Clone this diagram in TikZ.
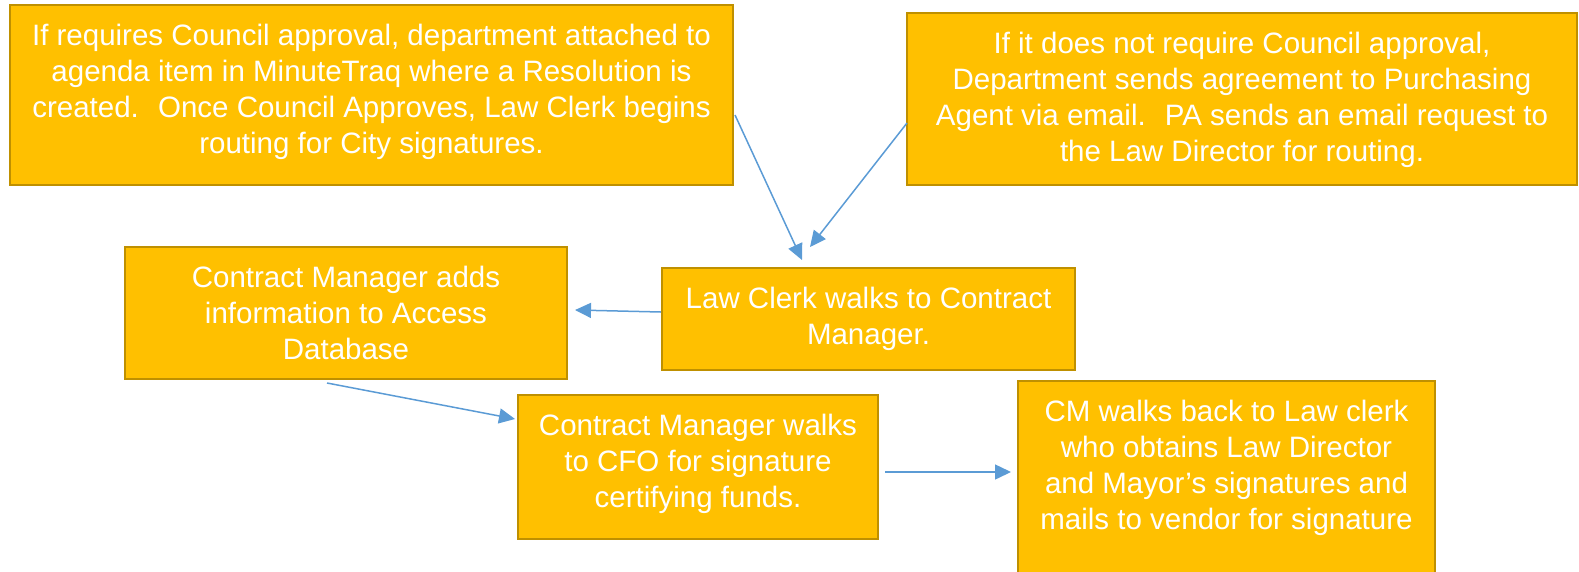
\documentclass[tikz,border=0pt]{standalone}
\usepackage{fontspec}
\setmainfont{Liberation Sans}
\usetikzlibrary{arrows.meta, calc}
\definecolor{boxfill}{HTML}{FFC000}
\definecolor{boxedge}{HTML}{BF9000}
\definecolor{flowblue}{HTML}{5B9BD5}

\begin{document}
\begin{tikzpicture}[x=1pt, y=-1pt,
    box/.style={draw=boxedge, fill=boxfill, line width=2.7pt, inner sep=0pt, outer sep=0pt},
    txt/.style={anchor=north, align=center, text=white, inner sep=0pt, font=\fontsize{29.5pt}{36pt}\selectfont},
    flow/.style={draw=flowblue, line width=1.5pt, -{Triangle[length=16pt, width=15pt]}}]
    \useasboundingbox (0, 0) rectangle (1579, 571);

    % top row
    \node [box, minimum width=723pt, minimum height=180pt] (b1) at (371.5, 95) {};
    \node [txt] (t1) at ([yshift=-19pt] b1.north) {If requires Council approval, department attached to\\agenda item in MinuteTraq where a Resolution is\\created.~ Once Council Approves, Law Clerk begins\\routing for City signatures.};
    \node [box, minimum width=670pt, minimum height=172pt] (b2) at (1242, 99) {};
    \node [txt] (t2) at ([yshift=-19pt] b2.north) {If it does not require Council approval,\\Department sends agreement to Purchasing\\Agent via email.~ PA sends an email request to\\the Law Director for routing.};

    % middle row
    \node [box, minimum width=442pt, minimum height=132pt] (b3) at (346, 313) {};
    \node [txt] (t3) at ([yshift=-19pt] b3.north) {Contract Manager adds\\information to Access\\Database};
    \node [box, minimum width=413pt, minimum height=102pt] (b4) at (868.5, 319) {};
    \node [txt] (t4) at ([yshift=-19pt] b4.north) {Law Clerk walks to Contract\\Manager.};

    % bottom row
    \node [box, minimum width=360pt, minimum height=144pt] (b5) at (698, 467) {};
    \node [txt] (t5) at ([yshift=-19pt] b5.north) {Contract Manager walks\\to CFO for signature\\certifying funds.};
    \node [box, minimum width=417pt, minimum height=194pt] (b6) at (1226.5, 478) {};
    \node [txt] (t6) at ([yshift=-19pt] b6.north) {CM walks back to Law clerk\\who obtains Law Director\\and Mayor’s signatures and\\mails to vendor for signature};

    % arrows
    \draw [flow] ($ (b1.north east) + (2, 110) $) -- ($ (b4.north west) + (140, -8) $);
    \draw [flow] ($ (b2.north west) + (0, 110) $) -- ($ (b4.north west) + (148, -21) $);
    \draw [flow] ($ (b4.west) + (-1, -7) $) -- ($ (b3.east) + (8, -3) $);
    \draw [flow] ($ (b3.south) + (-19, 4) $) -- ($ (b5.north west) + (-3, 24) $);
    \draw [flow] ($ (b5.east) + (7, 5) $) -- ($ (b6.west) + (-7, -6) $);
\end{tikzpicture}
\end{document}
